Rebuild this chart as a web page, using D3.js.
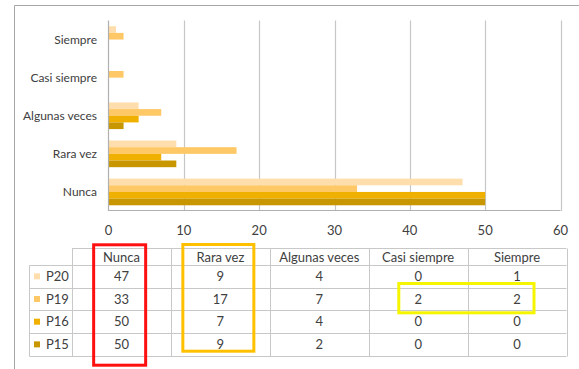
<!DOCTYPE html>
<html><head><meta charset="utf-8">
<script src="https://cdn.jsdelivr.net/npm/d3@7"></script>
<style>
html,body{margin:0;padding:0;background:#fff;}
svg text{font-family:Lato,"Open Sans",sans-serif;fill:#404040;}
</style></head>
<body><svg id="c" width="579" height="369"></svg>
<script>
const categories = ["Nunca","Rara vez","Algunas veces","Casi siempre","Siempre"];
const seriesNames = ["P20","P19","P16","P15"];
const P20 = [47,9,4,0,1];
const P19 = [33,17,7,2,2];
const P16 = [50,7,4,0,0];
const P15 = [50,9,2,0,0];
const xTicks = [0,10,20,30,40,50,60];
const colors = ["#FFDEAD","#FFC866","#F0B000","#C89600"];

const values = [P20,P19,P16,P15];
const svg = d3.select("#c");

// outer frame (left and top edges visible)
svg.append("path").attr("d","M14.5,369 V5.5 H579").attr("fill","none").attr("stroke","#A6A6A6").attr("stroke-width",1);

const x = d3.scaleLinear().domain([0,60]).range([108.5,560.5]);
const y = d3.scaleBand().domain(categories.slice().reverse()).range([20.5,211]).paddingInner(0.3).paddingOuter(0.15);
const ys = d3.scaleBand().domain(seriesNames).range([0,y.bandwidth()]);

// gridlines
svg.append("g").selectAll("line").data(xTicks.slice(1)).join("line")
  .attr("x1",d=>Math.round(x(d))+0.5).attr("x2",d=>Math.round(x(d))+0.5)
  .attr("y1",20.5).attr("y2",211).attr("stroke","#C6C6C6").attr("stroke-width",1.2);

// bars
const gs = svg.append("g");
seriesNames.forEach((s,si)=>{
  gs.append("g").selectAll("rect").data(categories).join("rect")
    .attr("x",x(0)).attr("y",(c)=>y(c)+ys(s))
    .attr("width",(c,i)=>x(values[si][i])-x(0)).attr("height",ys.bandwidth())
    .attr("fill",colors[si]);
});

// axes lines
svg.append("line").attr("x1",108.5).attr("x2",108.5).attr("y1",20.5).attr("y2",211).attr("stroke","#B0B0B0").attr("stroke-width",1.2);
svg.append("line").attr("x1",108.5).attr("x2",560.5).attr("y1",210.5).attr("y2",210.5).attr("stroke","#B0B0B0").attr("stroke-width",1.2);

// category labels
svg.append("g").selectAll("text").data(categories).join("text")
  .attr("x",97).attr("y",c=>y(c)+y.bandwidth()/2).attr("dy","0.35em")
  .attr("text-anchor","end").attr("font-size",12).text(c=>c);

// tick labels
svg.append("g").selectAll("text").data(xTicks).join("text")
  .attr("x",d=>x(d)).attr("y",230).attr("dy","0.35em")
  .attr("text-anchor","middle").attr("font-size",13).text(d=>d);

// data table
const tx = d3.scaleBand().domain(categories).range([72,566.5]);
const ty = d3.scaleBand().domain(seriesNames).range([265,355.7]);
const lineC = "#C8C8C8";
const tg = svg.append("g");
// horizontal lines
tg.append("line").attr("x1",72).attr("x2",566.5).attr("y1",248.5).attr("y2",248.5).attr("stroke",lineC);
[...seriesNames.map(s=>ty(s)), 355.7].forEach(yy=>{
  tg.append("line").attr("x1",29.5).attr("x2",566.5).attr("y1",Math.round(yy)+0.5).attr("y2",Math.round(yy)+0.5).attr("stroke",lineC);
});
// vertical lines
tg.append("line").attr("x1",29.5).attr("x2",29.5).attr("y1",265.5).attr("y2",356.5).attr("stroke",lineC);
[...categories.map(c=>tx(c)), 566.5].forEach(xx=>{
  tg.append("line").attr("x1",Math.round(xx)+0.5).attr("x2",Math.round(xx)+0.5).attr("y1",248.5).attr("y2",356.5).attr("stroke",lineC);
});
// header
tg.selectAll("text.h").data(categories).join("text").attr("class","h")
  .attr("x",c=>tx(c)+tx.bandwidth()/2).attr("y",257).attr("dy","0.35em")
  .attr("text-anchor","middle").attr("font-size",13).text(c=>c);
// rows
seriesNames.forEach((s,si)=>{
  const cy = ty(s)+ty.bandwidth()/2;
  tg.append("rect").attr("x",34).attr("y",cy-3).attr("width",6).attr("height",6).attr("fill",colors[si]);
  tg.append("text").attr("x",46).attr("y",cy).attr("dy","0.35em").attr("font-size",13).text(s);
  tg.append("g").selectAll("text").data(categories).join("text")
    .attr("x",c=>tx(c)+tx.bandwidth()/2).attr("y",cy).attr("dy","0.35em")
    .attr("text-anchor","middle").attr("font-size",13).text((c,i)=>values[si][i]);
});

// highlight boxes
const cx = c=>tx(c)+tx.bandwidth()/2;
svg.append("rect").attr("x",cx("Nunca")-27.8).attr("y",244.8).attr("width",52).attr("height",120.4)
  .attr("fill","none").attr("stroke","#FF1010").attr("stroke-width",3);
svg.append("rect").attr("x",cx("Rara vez")-37.5).attr("y",244.5).attr("width",71).attr("height",106.7)
  .attr("fill","none").attr("stroke","#FFC000").attr("stroke-width",3);
svg.append("rect").attr("x",398.8).attr("y",283.5).attr("width",135.2).attr("height",29.3)
  .attr("fill","none").attr("stroke","#F5F500").attr("stroke-width",3);
</script></body></html>
